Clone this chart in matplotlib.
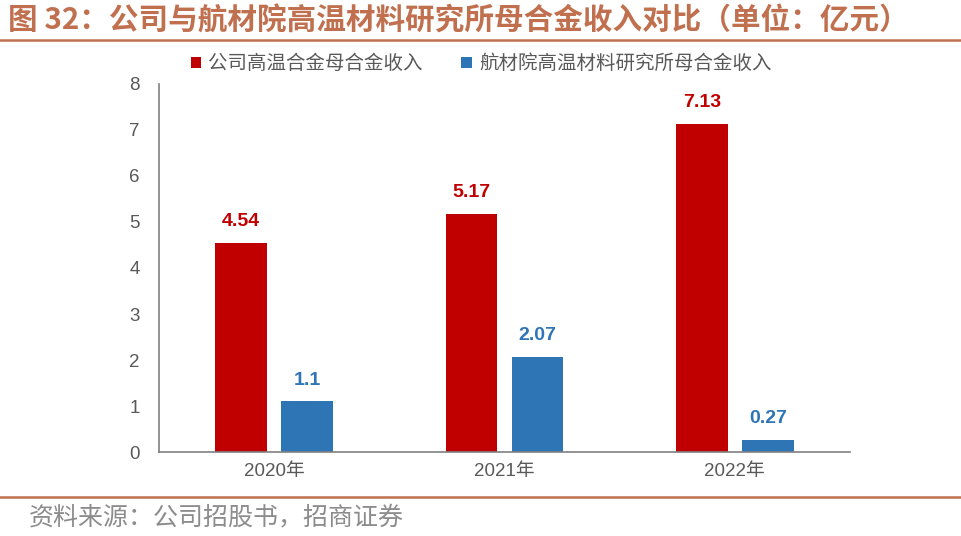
import matplotlib.pyplot as plt
import numpy as np

plt.rcParams['font.family'] = ['Noto Sans CJK SC', 'DejaVu Sans']

years = ['2020年', '2021年', '2022年']
company = [4.54, 5.17, 7.13]
institute = [1.1, 2.07, 0.27]
company_label = '公司高温合金母合金收入'
institute_label = '航材院高温材料研究所母合金收入'

red = '#C00000'
blue = '#2E75B6'
accent = '#C0704E'
num_font = ['Liberation Sans', 'Noto Sans CJK SC']

fig = plt.figure(figsize=(9.62, 5.36), dpi=100)
ax = fig.add_axes([0.1653, 0.1567, 0.7183, 0.6866])

x = np.arange(len(years))
w = 0.225
off = 0.143
b1 = ax.bar(x - off, company, w, color=red, label=company_label)
b2 = ax.bar(x + off, institute, w, color=blue, label=institute_label)

for rect, v in zip(b1, company):
    ax.text(rect.get_x() + rect.get_width() / 2, v + 0.28, f'{v:g}',
            ha='center', va='bottom', color=red, fontsize=14, fontweight='bold',
            family=num_font)
for rect, v in zip(b2, institute):
    ax.text(rect.get_x() + rect.get_width() / 2, v + 0.28, f'{v:g}',
            ha='center', va='bottom', color=blue, fontsize=14, fontweight='bold',
            family=num_font)

ax.set_xlim(-0.5, 2.5)
ax.set_ylim(0, 8)
ax.set_yticks(range(0, 9))
ax.set_xticks(x)
ax.set_xticklabels(years)
ax.tick_params(axis='both', length=0, labelsize=13.5, labelcolor='#595959')
ax.tick_params(axis='y', pad=14)
ax.tick_params(axis='x', pad=8)
for lab in ax.get_xticklabels() + ax.get_yticklabels():
    lab.set_family(num_font)
for s in ['top', 'right']:
    ax.spines[s].set_visible(False)
for s in ['left', 'bottom']:
    ax.spines[s].set_color('#808080')
    ax.spines[s].set_linewidth(1.2)

leg = fig.legend(handles=[b1, b2], loc='center', bbox_to_anchor=(0.5, 0.881), ncol=2,
                 frameon=False, fontsize=14, handlelength=0.55, handleheight=0.55,
                 handletextpad=0.35, columnspacing=2.0)
for t in leg.get_texts():
    t.set_color('#595959')

fig.text(0.008, 0.962, '图 32：公司与航材院高温材料研究所母合金收入对比（单位：亿元）',
         color=accent, fontsize=21.3, fontweight='bold', va='center', ha='left')
fig.add_artist(plt.Line2D([0, 1], [0.925, 0.925], color=accent, lw=1.8,
                          transform=fig.transFigure))
fig.add_artist(plt.Line2D([0, 1], [0.073, 0.073], color=accent, lw=1.8,
                          transform=fig.transFigure))
fig.text(0.03, 0.035, '资料来源：公司招股书，招商证券', color='#8C8C8C',
         fontsize=18, va='center', ha='left')

fig.savefig('out.png', dpi=100)
